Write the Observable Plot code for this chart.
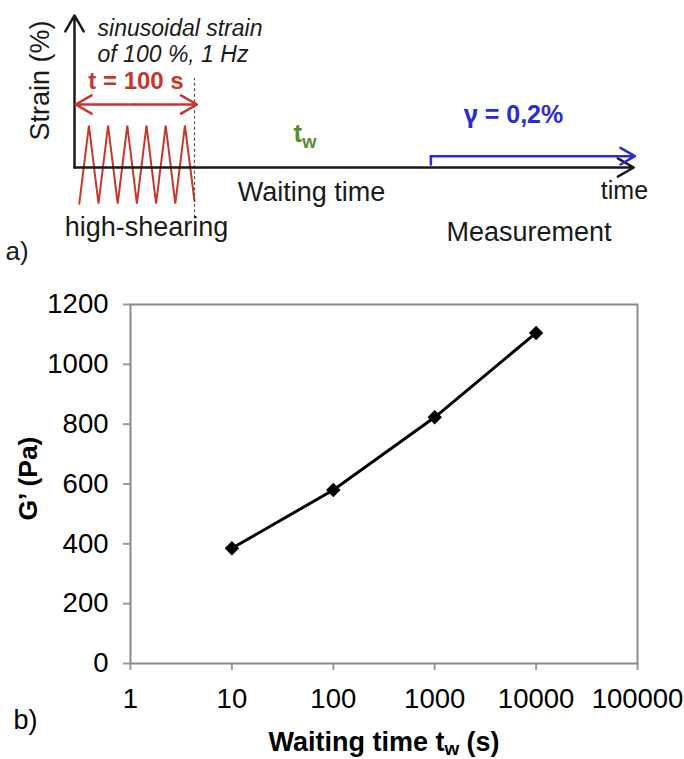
<!DOCTYPE html>
<html><head><meta charset="utf-8">
<script src="https://cdn.jsdelivr.net/npm/d3@7"></script>
<script src="https://cdn.jsdelivr.net/npm/@observablehq/plot@0.6"></script>
<style>
body{margin:0;background:#fff;width:684px;height:759px;overflow:hidden;font-family:"Liberation Sans",Arial,sans-serif}
#a svg,#b svg{display:block}
</style></head><body><div id="a"></div><div id="b"></div>
<script>
// ---------- data: panel a (schematic of the protocol) ----------
// schematic time (s) and strain (relative) of the high-shearing step
const shearTime   = [4, 12, 20, 28, 36, 44, 52, 60, 68, 76, 84, 92, 100];
const shearStrain = [-0.86, 1, -0.86, 1, -0.86, 1, -0.86, 1, -0.86, 1, -0.86, 1, -0.8];
const shearEnd = 100;          // t = 100 s
const measureStart = 297;      // start of the measurement step
const timeAxisEnd = 466;       // end of the schematic time axis
const strainAxisTop = 3.62;    // top of the schematic strain axis
const measureStrain = [0.07, 0.27];

// ---------- data: panel b ----------
const waitingTime = [10, 100, 1000, 10000];      // t_w (s)
const storageModulus = [385, 580, 823, 1105];    // G' (Pa)
const xTicks = [1, 10, 100, 1000, 10000, 100000];
const yTicks = [0, 200, 400, 600, 800, 1000, 1200];

const FONT = "'Liberation Sans', Arial, Helvetica, sans-serif";
const RED = "#c8352e", GREEN = "#5a8a2e", BLUE = "#2b2bd6", INK = "#1a1a1a";

function subscripts(svg, shift) {
  d3.select(svg).selectAll("text").each(function () {
    const str = this.textContent;
    const i = str.indexOf("_");
    if (i < 0) return;
    const before = str.slice(0, i), sub = str[i + 1], after = str.slice(i + 2);
    const el = d3.select(this);
    el.text(null);
    el.append("tspan").text(before);
    el.append("tspan").attr("dy", shift + "em").attr("font-size", "70%").text(sub);
    if (after) el.append("tspan").attr("dy", (-shift * 0.7) + "em").text(after);
  });
  return svg;
}
function greekFont(svg) {
  d3.select(svg).selectAll("text").each(function () {
    const str = this.textContent;
    if (!str.startsWith("γ")) return;
    const el = d3.select(this);
    el.text(null);
    el.append("tspan").attr("font-family", "'Noto Sans', 'DejaVu Sans', sans-serif").text("γ");
    el.append("tspan").text(str.slice(1));
  });
  return svg;
}

// ---------- panel a ----------
const shear = shearTime.map((t, i) => ({t, s: shearStrain[i]}));
const axesA = [
  {x1: 0, y1: 0, x2: 0, y2: strainAxisTop},
  {x1: 0, y1: 0, x2: timeAxisEnd, y2: 0}
];
const span = [
  {x1: shearEnd / 2, x2: shearEnd + 2},
  {x1: shearEnd / 2, x2: 1}
];
const step = [
  {t: measureStart, s: measureStrain[0]},
  {t: measureStart, s: measureStrain[1]}
];

const chartA = Plot.plot({
  width: 684, height: 270, margin: 0,
  style: {fontFamily: FONT, background: "white", overflow: "visible", color: INK},
  x: {domain: [0, 500], range: [74, 674], axis: null},
  y: {domain: [0, 1], range: [167, 125], axis: null},
  marks: [
    Plot.line(shear, {x: "t", y: "s", stroke: RED, strokeWidth: 2, strokeLinejoin: "miter"}),
    Plot.ruleX([shearEnd], {y1: -1.21, y2: 2.12, stroke: "#555", strokeWidth: 1.2, strokeDasharray: "3,2.5"}),
    Plot.arrow(axesA, {x1: "x1", y1: "y1", x2: "x2", y2: "y2", stroke: INK, strokeWidth: 2.5, headLength: 11}),
    Plot.arrow(span, {x1: "x1", x2: "x2", y1: 1.5, y2: 1.5, stroke: RED, strokeWidth: 2.5, headLength: 11}),
    Plot.line(step, {x: "t", y: "s", stroke: BLUE, strokeWidth: 2.5}),
    Plot.arrow([0], {x1: measureStart, x2: timeAxisEnd + 1, y1: measureStrain[1], y2: measureStrain[1], stroke: BLUE, strokeWidth: 2.5, headLength: 10}),
    Plot.text(["Strain (%)"], {x: -28.3, y: 2.07, text: d => d, rotate: -90, fontSize: 27}),
    Plot.text(["sinusoidal strain\nof 100 %, 1 Hz"], {x: 19.2, y: 2.52, text: d => d, textAnchor: "start", lineAnchor: "bottom", lineHeight: 1.1, fontSize: 23, fontStyle: "italic"}),
    Plot.text(["t = 100 s"], {x: 51.25, y: 1.88, text: d => d, lineAnchor: "bottom", fontSize: 24, fontWeight: "bold", fill: RED}),
    Plot.text(["t_w"], {x: 182.5, y: 0.6, text: d => d, textAnchor: "start", lineAnchor: "bottom", fontSize: 26, fontWeight: "bold", fill: GREEN}),
    Plot.text(["Waiting time"], {x: 197.5, y: -0.79, text: d => d, lineAnchor: "bottom", fontSize: 27}),
    Plot.text(["high-shearing"], {x: 60, y: -1.62, text: d => d, lineAnchor: "bottom", fontSize: 27}),
    Plot.text(["Measurement"], {x: 378.75, y: -1.74, text: d => d, lineAnchor: "bottom", fontSize: 27}),
    Plot.text(["time"], {x: 458.3, y: -0.74, text: d => d, lineAnchor: "bottom", fontSize: 25}),
    Plot.text(["γ = 0,2%"], {x: 365.8, y: 1.05, text: d => d, lineAnchor: "bottom", fontSize: 25, fontWeight: "bold", fill: BLUE}),
    Plot.text(["a)"], {x: -57.5, y: -2.21, text: d => d, textAnchor: "start", lineAnchor: "bottom", fontSize: 26})
  ]
});
document.getElementById("a").appendChild(greekFont(subscripts(chartA, 0.33)));

// ---------- panel b ----------
const series = waitingTime.map((t, i) => ({t, g: storageModulus[i]}));
const chartB = Plot.plot({
  width: 684, height: 489,
  marginTop: 34, marginBottom: 96, marginLeft: 130, marginRight: 47,
  style: {fontFamily: FONT, background: "white", overflow: "visible", color: "black"},
  x: {type: "log", domain: [1, 100000]},
  y: {domain: [0, 1200]},
  marks: [
    Plot.axisX({ticks: xTicks, tickFormat: d => String(d), tickSize: 7, tickPadding: 18, fontSize: 27.5, stroke: "#9a9a9a", strokeWidth: 2, fill: "black", label: null}),
    Plot.axisY({ticks: yTicks, tickFormat: d => String(d), tickSize: 7, tickPadding: 15, fontSize: 27.5, stroke: "#9a9a9a", strokeWidth: 2, fill: "black", label: null}),
    Plot.frame({stroke: "#8a8a8a", strokeWidth: 2}),
    Plot.line(series, {x: "t", y: "g", stroke: "black", strokeWidth: 3}),
    Plot.dot(series, {x: "t", y: "g", symbol: "diamond2", fill: "black", r: 6.5}),
    Plot.text(["G’ (Pa)"], {frameAnchor: "left", text: d => d, dx: -102, dy: 36.5, rotate: -90, fontWeight: "bold", fontSize: 26.5}),
    Plot.text(["Waiting time t_w (s)"], {frameAnchor: "bottom", text: d => d, dy: 87, lineAnchor: "bottom", fontWeight: "bold", fontSize: 27}),
    Plot.text(["b)"], {frameAnchor: "bottom-left", text: d => d, dx: -117, dy: 65, textAnchor: "start", lineAnchor: "bottom", fontSize: 27})
  ]
});
document.getElementById("b").appendChild(subscripts(chartB, 0.22));
</script>
</body></html>
